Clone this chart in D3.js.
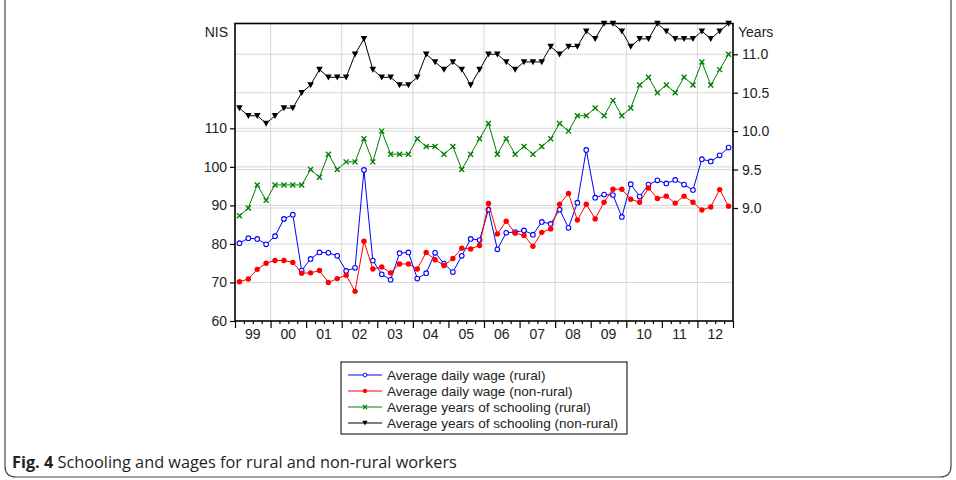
<!DOCTYPE html>
<html>
<head>
<meta charset="utf-8">
<script src="https://cdn.jsdelivr.net/npm/d3@7"></script>
<style>
  body { margin: 0; background: #fff; }
  svg { display: block; }
  .lbl { font-family: "Liberation Sans", Arial, sans-serif; font-size: 14px; fill: #222; }
  .leg { font-family: "Liberation Sans", Arial, sans-serif; font-size: 13.6px; fill: #222; }
</style>
</head>
<body>
<svg id="chart" width="956" height="480"></svg>
<script>
// Quartalswerte 1999Q1 - 2012Q4
const yearLabels = ["99","00","01","02","03","04","05","06","07","08","09","10","11","12"];
const firstYear = 1999;

const wageRural = [
  80.2, 81.5, 81.3, 79.9, 82.0, 86.5, 87.6, 73.1, 76.1, 77.8,
  77.7, 76.9, 73.0, 73.8, 99.2, 75.7, 72.1, 70.7, 77.6, 77.8,
  71.0, 72.4, 77.7, 74.9, 72.7, 76.9, 81.3, 81.0, 88.9, 78.6,
  82.9, 83.1, 83.5, 82.4, 85.7, 85.2, 88.9, 84.2, 90.7, 104.4,
  92.0, 92.8, 92.7, 87.0, 95.5, 92.3, 95.4, 96.5, 95.7, 96.6,
  95.4, 94.0, 102.0, 101.4, 103.0, 105.0
];
const wageNonRural = [
  70.2, 70.9, 73.4, 75.0, 75.7, 75.7, 75.2, 72.4, 72.5, 73.1,
  70.0, 71.0, 71.9, 67.7, 80.7, 73.5, 74.0, 72.5, 74.8, 74.8,
  73.5, 77.8, 75.9, 74.4, 76.2, 78.9, 78.7, 79.6, 90.5, 82.6,
  85.9, 82.8, 82.2, 79.4, 83.0, 83.9, 90.3, 93.1, 86.2, 90.3,
  86.5, 90.8, 94.2, 94.2, 91.6, 90.8, 94.5, 91.8, 92.4, 90.6,
  92.4, 90.8, 88.8, 89.6, 94.1, 89.8
];
const schoolRural = [
  8.9, 9.0, 9.3, 9.1, 9.3, 9.3, 9.3, 9.3, 9.5, 9.4,
  9.7, 9.5, 9.6, 9.6, 9.9, 9.6, 10.0, 9.7, 9.7, 9.7,
  9.9, 9.8, 9.8, 9.7, 9.8, 9.5, 9.7, 9.9, 10.1, 9.7,
  9.9, 9.7, 9.8, 9.7, 9.8, 9.9, 10.1, 10.0, 10.2, 10.2,
  10.3, 10.2, 10.4, 10.2, 10.3, 10.6, 10.7, 10.5, 10.6, 10.5,
  10.7, 10.6, 10.9, 10.6, 10.8, 11.0
];
const schoolNonRural = [
  10.3, 10.2, 10.2, 10.1, 10.2, 10.3, 10.3, 10.5, 10.6, 10.8,
  10.7, 10.7, 10.7, 11.0, 11.2, 10.8, 10.7, 10.7, 10.6, 10.6,
  10.7, 11.0, 10.9, 10.8, 10.9, 10.8, 10.6, 10.8, 11.0, 11.0,
  10.9, 10.8, 10.9, 10.9, 10.9, 11.1, 11.0, 11.1, 11.1, 11.3,
  11.2, 11.4, 11.4, 11.3, 11.1, 11.2, 11.2, 11.4, 11.3, 11.2,
  11.2, 11.2, 11.3, 11.2, 11.3, 11.4
];

const wageTicks = [60, 70, 80, 90, 100, 110];
const schoolTicks = [9.0, 9.5, 10.0, 10.5, 11.0];

const legendLabels = [
  "Average daily wage (rural)",
  "Average daily wage (non-rural)",
  "Average years of schooling (rural)",
  "Average years of schooling (non-rural)"
];

// ==============================

const svg = d3.select("#chart");
const plot = { left: 235, right: 733, top: 23.5, bottom: 321 };

const x = d3.scaleLinear().domain([firstYear, firstYear + yearLabels.length]).range([plot.left, plot.right]);
const yWage = d3.scaleLinear().domain([60, 137.2]).range([plot.bottom, plot.top]);
const ySchool = d3.scaleLinear().domain([7.53, 11.4]).range([plot.bottom, plot.top]);

const qx = (_, i) => x(firstYear + i / 4 + 0.125);

// äußerer Rahmen
svg.append("path")
  .attr("d", "M5,-5 V466 Q5,477 16,477 H940 Q951,477 951,466 V-5")
  .attr("fill", "none")
  .attr("stroke", "#444")
  .attr("stroke-width", 1.2);

// Gitterlinien
const grid = svg.append("g").attr("stroke", "#d6d6d6").attr("stroke-width", 1);
grid.selectAll(".gw").data(wageTicks.slice(1)).join("line")
  .attr("x1", plot.left).attr("x2", plot.right)
  .attr("y1", d => yWage(d)).attr("y2", d => yWage(d));
grid.selectAll(".gs").data(schoolTicks).join("line")
  .attr("x1", plot.left).attr("x2", plot.right)
  .attr("y1", d => ySchool(d)).attr("y2", d => ySchool(d));
grid.selectAll(".gx").data(d3.range(firstYear + 1, firstYear + yearLabels.length, 2)).join("line")
  .attr("x1", d => x(d)).attr("x2", d => x(d))
  .attr("y1", plot.top).attr("y2", plot.bottom);

// Achsen
const axisLeft = svg.append("g")
  .attr("transform", `translate(${plot.left},0)`)
  .call(d3.axisLeft(yWage).tickValues(wageTicks).tickSize(5).tickPadding(3));
const axisRight = svg.append("g")
  .attr("transform", `translate(${plot.right},0)`)
  .call(d3.axisRight(ySchool).tickValues(schoolTicks).tickFormat(d3.format(".1f")).tickSize(5).tickPadding(4));

const quarterTicks = d3.range(0, yearLabels.length * 4 + 1).map(q => firstYear + q / 4);
const axisBottom = svg.append("g")
  .attr("transform", `translate(0,${plot.bottom})`)
  .call(d3.axisBottom(x).tickValues(quarterTicks).tickFormat("").tickSize(3));
axisBottom.selectAll(".tick line").filter(d => Number.isInteger(d)).attr("y2", 7);

// Jahreslabels zwischen den Ticks
svg.append("g").selectAll("text").data(yearLabels).join("text")
  .attr("class", "lbl")
  .attr("x", (d, i) => x(firstYear + i + 0.5))
  .attr("y", plot.bottom + 18)
  .attr("text-anchor", "middle")
  .text(d => d);

[axisLeft, axisRight, axisBottom].forEach(a => {
  a.select(".domain").remove();
  a.selectAll(".tick line").attr("stroke", "#000").attr("stroke-width", 1.2);
  a.selectAll("text").attr("class", "lbl").attr("fill", null);
});

// Rahmen um Plotfläche
svg.append("rect")
  .attr("x", plot.left).attr("y", plot.top)
  .attr("width", plot.right - plot.left).attr("height", plot.bottom - plot.top)
  .attr("fill", "none").attr("stroke", "#000").attr("stroke-width", 1.6);

svg.append("text").attr("class", "lbl").attr("x", 228).attr("y", 37).attr("text-anchor", "end").text("NIS");
svg.append("text").attr("class", "lbl").attr("x", 738).attr("y", 37).text("Years");

// Marker
function drawMarker(sel, type, color) {
  if (type === "circle") {
    sel.append("circle").attr("r", 2.3).attr("fill", "#fff").attr("stroke", color).attr("stroke-width", 1.1);
  } else if (type === "dot") {
    sel.append("circle").attr("r", 2.7).attr("fill", color);
  } else if (type === "cross") {
    sel.append("path").attr("d", "M-2.5,-2.5L2.5,2.5M-2.5,2.5L2.5,-2.5")
      .attr("stroke", color).attr("stroke-width", 1.4).attr("fill", "none");
  } else {
    sel.append("path").attr("d", "M-3.3,-2.8L3.3,-2.8L0,3.2Z").attr("fill", color);
  }
}

const series = [
  { values: wageRural, y: yWage, color: "#0000ff", marker: "circle" },
  { values: wageNonRural, y: yWage, color: "#ff0000", marker: "dot" },
  { values: schoolRural, y: ySchool, color: "#008000", marker: "cross" },
  { values: schoolNonRural, y: ySchool, color: "#000000", marker: "triangle" }
];

series.forEach(s => {
  const g = svg.append("g");
  g.append("path")
    .datum(s.values)
    .attr("fill", "none")
    .attr("stroke", s.color)
    .attr("stroke-width", 1)
    .attr("d", d3.line().x(qx).y(d => s.y(d)));
  g.selectAll("g").data(s.values).join("g")
    .attr("transform", (d, i) => `translate(${qx(d, i)},${s.y(d)})`)
    .each(function () { drawMarker(d3.select(this), s.marker, s.color); });
});

// Legende
const legend = svg.append("g").attr("transform", "translate(341,362)");
legend.append("rect").attr("width", 286).attr("height", 72)
  .attr("fill", "#fff").attr("stroke", "#000").attr("stroke-width", 1);
series.forEach((s, i) => {
  const row = legend.append("g").attr("transform", `translate(0,${13 + i * 16})`);
  row.append("line").attr("x1", 7).attr("x2", 41).attr("stroke", s.color).attr("stroke-width", 1);
  const m = row.append("g").attr("transform", "translate(24,0) scale(0.8)");
  drawMarker(m, s.marker, s.color);
  row.append("text").attr("class", "leg").attr("x", 46).attr("y", 5).text(legendLabels[i]);
});

// Bildunterschrift
const cap = svg.append("text")
  .attr("x", 12).attr("y", 468)
  .attr("font-family", "'Open Sans', sans-serif")
  .attr("font-size", 16.3)
  .attr("fill", "#231f20");
cap.append("tspan").attr("font-weight", "bold").text("Fig. 4");
cap.append("tspan").text(" Schooling and wages for rural and non-rural workers");
</script>
</body>
</html>
